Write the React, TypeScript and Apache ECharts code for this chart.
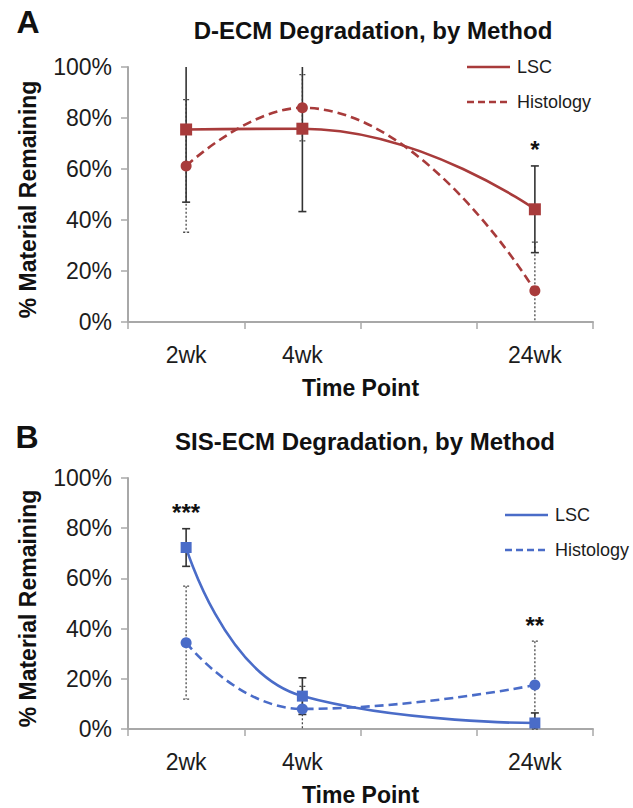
import React, { useEffect, useRef } from "react";
import * as echarts from "echarts";

// ---- data ----
const categories = ["2wk", "4wk", "", "24wk"];

// Panel A: D-ECM
const lscA = [75.5, 75.8, null, 44.2];
const lscErrA = [28.5, 32.5, null, 17];
const histA = [61.2, 84, null, 12.3];
const histErrA = [26, 13, null, 19];
const sigA = ["", "", "", "*"];

// Panel B: SIS-ECM
const lscB = [72.3, 13.1, null, 2.4];
const lscErrB = [7.5, 7.3, null, 4];
const histB = [34.4, 8, null, 17.5];
const histErrB = [22.5, 9, null, 17.5];
const sigB = ["***", "", "", "**"];

const titles = ["D-ECM Degradation, by Method", "SIS-ECM Degradation, by Method"];
const panelLetters = ["A", "B"];
const seriesNames = ["LSC", "Histology"];

// ---- styles ----
const FONT = "'Liberation Sans', Arial, Helvetica, sans-serif";
const RED = "#A83B3B";
const BLUE = "#4A6CC8";
const AXIS = "#A8A8A8";
const TEXT = "#1c1c1c";

type Num = number | null;

function errorData(vals: Num[], errs: Num[]) {
  const out: number[][] = [];
  vals.forEach((v, i) => {
    if (v != null && errs[i] != null) out.push([i, v as number, errs[i] as number]);
  });
  return out;
}

function errorSeries(name: string, vals: Num[], errs: Num[], g: number, dotted: boolean) {
  return {
    type: "custom",
    name: name + " error",
    xAxisIndex: g,
    yAxisIndex: g,
    silent: true,
    z: 2,
    dimensions: ["x", "y", "err"],
    encode: { x: 0, y: 1 },
    data: errorData(vals, errs),
    renderItem: (params: any, api: any) => {
      const i = api.value(0);
      const v = api.value(1);
      const e = api.value(2);
      const hi = Math.min(100, v + e);
      const lo = Math.max(0, v - e);
      const pHi = api.coord([i, hi]);
      const pLo = api.coord([i, lo]);
      const style: any = {
        stroke: dotted ? "#4a4a4a" : "#333333",
        lineWidth: dotted ? 1.3 : 1.6,
        lineDash: dotted ? [2, 2] : null,
        fill: null,
      };
      const half = dotted ? 3 : 4;
      const children: any[] = [
        { type: "line", shape: { x1: pHi[0], y1: pHi[1], x2: pLo[0], y2: pLo[1] }, style },
      ];
      if (v + e <= 100) {
        children.push({ type: "line", shape: { x1: pHi[0] - half, y1: pHi[1], x2: pHi[0] + half, y2: pHi[1] }, style });
      }
      if (v - e >= 0) {
        children.push({ type: "line", shape: { x1: pLo[0] - half, y1: pLo[1], x2: pLo[0] + half, y2: pLo[1] }, style });
      }
      return { type: "group", children };
    },
  };
}

function sigSeries(sig: string[], a: Num[], ae: Num[], b: Num[], be: Num[], g: number) {
  const items: { i: number; top: number; text: string }[] = [];
  sig.forEach((s, i) => {
    if (!s) return;
    const t1 = a[i] != null ? (a[i] as number) + ((ae[i] as number) || 0) : 0;
    const t2 = b[i] != null ? (b[i] as number) + ((be[i] as number) || 0) : 0;
    items.push({ i, top: Math.min(100, Math.max(t1, t2)), text: s });
  });
  return {
    type: "custom",
    name: "significance",
    xAxisIndex: g,
    yAxisIndex: g,
    silent: true,
    z: 4,
    encode: { x: 0, y: 1 },
    data: items.map((d) => [d.i, d.top]),
    renderItem: (params: any, api: any) => {
      const p = api.coord([api.value(0), api.value(1)]);
      return {
        type: "text",
        x: p[0],
        y: p[1] - 16,
        style: {
          text: items[params.dataIndex].text,
          fill: "#111",
          fontSize: 24,
          fontWeight: "bold",
          fontFamily: FONT,
          align: "center",
          verticalAlign: "middle",
        },
      };
    },
  };
}

function lineSeries(name: string, vals: Num[], g: number, color: string, dashed: boolean, size: number) {
  return {
    type: "line",
    name,
    xAxisIndex: g,
    yAxisIndex: g,
    data: vals.map((v) => (v == null ? "-" : v)),
    smooth: 0.5,
    connectNulls: true,
    symbol: dashed ? "circle" : "rect",
    symbolSize: size,
    itemStyle: { color },
    lineStyle: { color, width: 2.6, type: dashed ? [9, 5] : "solid" },
    z: 3,
  };
}

function xAxis(g: number) {
  return {
    type: "category",
    gridIndex: g,
    data: categories,
    boundaryGap: true,
    axisLine: { show: true, lineStyle: { color: AXIS, width: 2 } },
    axisTick: { show: true, length: 7, alignWithLabel: false, interval: 0, lineStyle: { color: AXIS, width: 1.5 } },
    axisLabel: { interval: 0, margin: 21, fontSize: 23, color: TEXT, fontFamily: FONT },
    splitLine: { show: false },
    name: "Time Point",
    nameLocation: "middle",
    nameGap: 54,
    nameTextStyle: { fontSize: 23, fontWeight: "bold", color: "#111", fontFamily: FONT },
  };
}

function yAxis(g: number) {
  return {
    type: "value",
    gridIndex: g,
    min: 0,
    max: 100,
    interval: 20,
    axisLine: { show: true, lineStyle: { color: AXIS, width: 2 } },
    axisTick: { show: true, length: 7, lineStyle: { color: AXIS, width: 1.5 } },
    axisLabel: { formatter: "{value}%", margin: 16, fontSize: 23, color: TEXT, fontFamily: FONT },
    splitLine: { show: false },
    name: "% Material Remaining",
    nameLocation: "middle",
    nameGap: 89,
    nameTextStyle: { fontSize: 23, fontWeight: "bold", color: "#111", fontFamily: FONT, padding: [0, 10, 0, 0] },
  };
}

function legendGraphics(x: number, y: number, color: string) {
  const els: any[] = [];
  seriesNames.forEach((n, k) => {
    const yy = y + k * 35;
    els.push({
      type: "line",
      shape: { x1: x, y1: yy, x2: x + 43, y2: yy },
      style: { stroke: color, lineWidth: 2.6, lineDash: k === 1 ? [7, 4] : null },
    });
    els.push({
      type: "text",
      x: x + 50,
      y: yy,
      style: { text: n, fill: TEXT, fontSize: 18, fontFamily: FONT, align: "left", verticalAlign: "middle" },
    });
  });
  return els;
}

function headText(text: string, x: number, y: number, size: number) {
  return {
    type: "text",
    x,
    y,
    style: { text, fill: "#111", fontSize: size, fontWeight: "bold", fontFamily: FONT, align: "center", verticalAlign: "middle" },
  };
}

const option: any = {
  animation: false,
  backgroundColor: "#ffffff",
  textStyle: { fontFamily: FONT },
  grid: [
    { left: 128, top: 67, width: 465, height: 255, containLabel: false },
    { left: 128, top: 478, width: 465, height: 251, containLabel: false },
  ],
  xAxis: [xAxis(0), xAxis(1)],
  yAxis: [yAxis(0), yAxis(1)],
  series: [
    errorSeries("Histology", histA, histErrA, 0, true),
    errorSeries("LSC", lscA, lscErrA, 0, false),
    lineSeries("LSC", lscA, 0, RED, false, 12),
    lineSeries("Histology", histA, 0, RED, true, 11),
    sigSeries(sigA, lscA, lscErrA, histA, histErrA, 0),
    errorSeries("Histology", histB, histErrB, 1, true),
    errorSeries("LSC", lscB, lscErrB, 1, false),
    lineSeries("LSC", lscB, 1, BLUE, false, 11),
    lineSeries("Histology", histB, 1, BLUE, true, 11),
    sigSeries(sigB, lscB, lscErrB, histB, histErrB, 1),
  ],
  graphic: [
    headText(panelLetters[0], 28, 22, 32),
    headText(titles[0], 373, 30, 24),
    headText(panelLetters[1], 27, 437, 32),
    headText(titles[1], 365, 441, 24),
    ...legendGraphics(467, 67, RED),
    ...legendGraphics(505, 515, BLUE),
  ],
};

export default function App() {
  const ref = useRef<HTMLDivElement>(null);
  useEffect(() => {
    if (!ref.current) return;
    const chart = echarts.init(ref.current, null, { renderer: "svg" });
    chart.setOption(option);
    return () => chart.dispose();
  }, []);
  return (
    <div
      ref={ref}
      style={{ position: "absolute", left: 0, top: 0, width: 633, height: 808, background: "#fff" }}
    />
  );
}
